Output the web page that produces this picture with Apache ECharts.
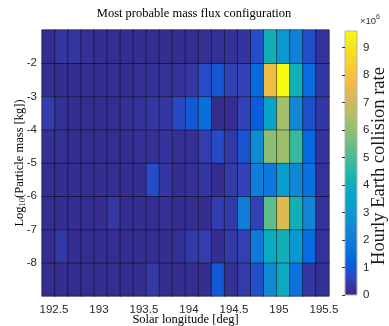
<!DOCTYPE html>
<html><head><meta charset="utf-8">
<script src="https://cdn.jsdelivr.net/npm/echarts@6/dist/echarts.min.js"></script>
<style>html,body{margin:0;padding:0;background:#fff}#c{width:389px;height:326px}</style>
</head><body><div id="c"></div>
<script>
// Solar longitude bin centres [deg]
const solarLongitude = ['192.44','192.58','192.73','192.87','193.02','193.16','193.31','193.45','193.60','193.74','193.89',
  '194.03','194.18','194.32','194.47','194.61','194.76','194.90','195.05','195.19','195.34','195.48'];
// log10 particle mass bin centres, bottom to top
const logMass = ['-8.5','-7.5','-6.5','-5.5','-4.5','-3.5','-2.5','-1.5'];
// Hourly Earth collision rate (x 10^6), one row per mass bin
const rate_m1_5 = [0.1,0.3,0.3,0.15,0.1,0.1,0.1,0.1,0.1,0.1,0.1,0.1,0.15,0.15,0.2,0.25,0.8,4.1,3.0,2.2,0.8,0.2];
const rate_m2_5 = [0.1,0.1,0.1,0.1,0.1,0.1,0.1,0.15,0.2,0.2,0.2,0.3,0.75,0.95,0.55,0.55,1.5,7.7,9.6,4.1,1.5,0.3];
const rate_m3_5 = [0.45,0.15,0.1,0.1,0.1,0.1,0.15,0.2,0.3,0.3,0.7,1.0,1.6,0.05,0.1,0.55,1.1,3.5,6.3,2.5,0.85,0.3];
const rate_m4_5 = [0.15,0.15,0.1,0.1,0.1,0.1,0.1,0.15,0.15,0.25,0.15,0.15,0.45,0.75,0.35,0.9,2.6,5.9,6.2,4.8,1.4,0.25];
const rate_m5_5 = [0.1,0.1,0.1,0.1,0.1,0.1,0.1,0.1,0.75,0.3,0.1,0.15,0.3,0.1,0.4,0.55,2.1,1.9,3.2,2.5,1.7,0.2];
const rate_m6_5 = [0.1,0.1,0.1,0.1,0.1,0.3,0.1,0.1,0.1,0.15,0.1,0.1,0.1,0.45,0.4,2.1,0.55,5.3,7.3,4.1,2.4,0.2];
const rate_m7_5 = [0.1,0.35,0.1,0.1,0.1,0.1,0.1,0.1,0.1,0.1,0.15,0.4,0.45,0.1,0.35,0.5,2.0,3.8,4.1,3.0,1.5,0.2];
const rate_m8_5 = [0.1,0.1,0.1,0.1,0.1,0.1,0.1,0.1,0.35,0.1,0.1,0.1,0.1,1.0,0.15,0.4,0.8,2.6,3.8,1.7,0.3,0.15];
const xTicks = [192.5,193,193.5,194,194.5,195,195.5];
const yTicks = [-2,-3,-4,-5,-6,-7,-8];
const cbTicks = [0,1,2,3,4,5,6,7,8,9];
const rateMin = 0, rateMax = 9.6;

const rowsBottomUp = [rate_m8_5, rate_m7_5, rate_m6_5, rate_m5_5, rate_m4_5, rate_m3_5, rate_m2_5, rate_m1_5];
const heat = [];
rowsBottomUp.forEach((row, j) => row.forEach((v, i) => heat.push([i, j, v])));

const parula = ['#352a87','#3243ba','#0363e1','#0d75dc','#1485d4','#0998d1','#06a7c6','#15b1b4','#38b99e',
  '#65be86','#92bf73','#b7bd64','#d9ba56','#f8bb44','#fcce2e','#f5e41d','#f9fb0e'];

const PL = 42, PT = 30, PW = 287, PH = 266;
const CL = 345, CT = 31, CW = 12, CH = 264;
const sans = 'Liberation Sans, Arial, sans-serif';
const serif = 'Liberation Serif, Times New Roman, serif';
const tickCol = '#262626';

const chart = echarts.init(document.getElementById('c'), null, {renderer: 'canvas'});
chart.setOption({
  animation: false,
  backgroundColor: '#fff',
  grid: [
    {left: PL, top: PT, width: PW, height: PH, show: false, containLabel: false, outerBoundsMode: 'none'},
    {left: PL, top: PT, width: PW, height: PH, show: true, borderColor: '#c9c9cf', borderWidth: 1,
     backgroundColor: 'transparent', containLabel: false, outerBoundsMode: 'none'},
    {left: CL, top: CT, width: CW, height: CH, show: false, containLabel: false, outerBoundsMode: 'none'}
  ],
  xAxis: [
    {type: 'category', gridIndex: 0, data: solarLongitude, show: false},
    {type: 'value', gridIndex: 1, min: 192.367, max: 195.556, position: 'bottom',
     name: 'Solar longitude [deg]', nameLocation: 'middle', nameGap: 17, nameMoveOverlap: false,
     nameTextStyle: {fontFamily: serif, fontSize: 12.5, color: '#000'},
     axisLine: {show: false}, splitLine: {show: false},
     axisTick: {show: false},
     axisLabel: {customValues: xTicks, margin: 8, fontFamily: sans, fontSize: 11.5, color: tickCol}},
    {type: 'value', gridIndex: 2, min: 0, max: 1, show: false}
  ],
  yAxis: [
    {type: 'category', gridIndex: 0, data: logMass, show: false},
    {type: 'value', gridIndex: 1, min: -9, max: -1, position: 'left',
     name: '{n|Log}{s|10}{n|(Particle mass [kg])}', nameLocation: 'middle', nameGap: 15, nameRotate: 90,
     nameMoveOverlap: false,
     nameTextStyle: {rich: {n: {fontFamily: serif, fontSize: 12.5, color: '#000'},
                            s: {fontFamily: serif, fontSize: 8.5, color: '#000', verticalAlign: 'bottom', padding: [5,0,0,0]}}},
     axisLine: {show: false}, splitLine: {show: false}, axisTick: {show: false},
     axisLabel: {customValues: yTicks, margin: 5, fontFamily: sans, fontSize: 11.5, color: tickCol}},
    {type: 'value', gridIndex: 2, min: rateMin, max: rateMax, position: 'right', z: 10,
     axisLine: {show: false}, splitLine: {show: false},
     axisTick: {customValues: cbTicks, inside: true, length: 3, lineStyle: {color: '#333'}},
     axisLabel: {customValues: cbTicks, margin: 6, fontFamily: sans, fontSize: 11.5, color: tickCol}}
  ],
  visualMap: {show: false, type: 'continuous', min: rateMin, max: rateMax, dimension: 2, seriesIndex: 0,
              inRange: {color: parula}},
  series: [{
    type: 'heatmap', xAxisIndex: 0, yAxisIndex: 0, data: heat,
    itemStyle: {borderColor: 'rgba(0,0,0,0.45)', borderWidth: 1},
    emphasis: {disabled: true}
  }],
  graphic: [
    {type: 'rect', z: 0, shape: {x: CL, y: CT, width: CW, height: CH},
     style: {fill: new echarts.graphic.LinearGradient(0, 1, 0, 0,
        parula.map((c, i) => ({offset: i / (parula.length - 1), color: c}))),
        stroke: '#b4b4b4', lineWidth: 1}},
    {type: 'text', x: 194, y: 14, style: {text: 'Most probable mass flux configuration',
      fontFamily: serif, fontSize: 12.5, fill: '#000', align: 'center', verticalAlign: 'middle'}},
    {type: 'text', x: 379, y: 166, rotation: Math.PI / 2, style: {text: 'Hourly Earth collision rate',
      fontFamily: serif, fontSize: 18.5, fill: '#1a1a1a', align: 'center', verticalAlign: 'middle'}},
    {type: 'text', x: 360, y: 21, style: {text: '×10{s|6}', fontFamily: sans, fontSize: 9.5, fill: '#333',
      verticalAlign: 'middle', rich: {s: {fontSize: 7, fill: '#333', verticalAlign: 'bottom', padding: [0,0,7,0]}}}}
  ]
});
</script></body></html>
